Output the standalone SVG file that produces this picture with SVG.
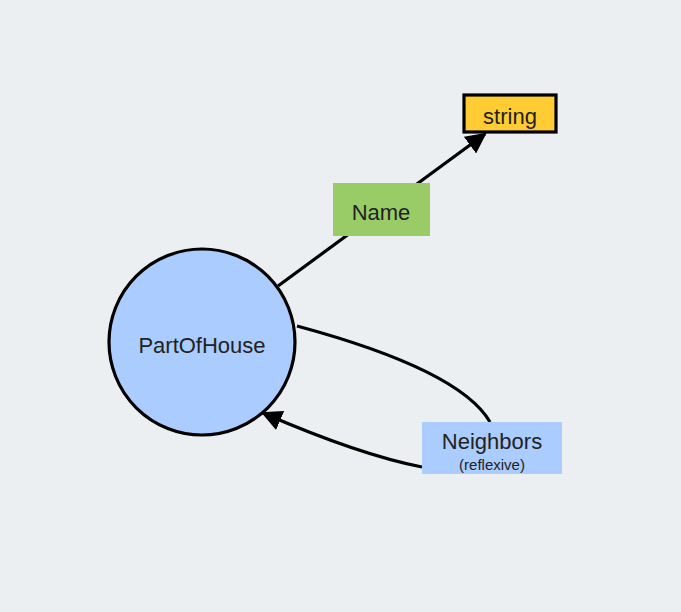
<svg xmlns="http://www.w3.org/2000/svg" width="681" height="612" viewBox="0 0 681 612">
<style>
text{font-family:"Liberation Sans",Arial,sans-serif;fill:#222;text-anchor:middle}
.edge{fill:none;stroke:#000;stroke-width:3.2}
</style>
<defs>
<marker id="arr" viewBox="0 0 10 10" refX="9" refY="5" markerWidth="6.5" markerHeight="6.5" markerUnits="strokeWidth" orient="auto">
<path d="M0,0 L10,5 L0,10 z" fill="#000"/>
</marker>
</defs>
<rect width="681" height="612" fill="#ECEFF1"/>
<g id="connectors">
<path class="edge" d="M278,286 L485,134" marker-end="url(#arr)"/>
<path class="edge" d="M297,326 Q460,370 490,422"/>
<path class="edge" d="M422,467 Q360,455 263,413" marker-end="url(#arr)"/>
</g>
<g id="PartOfHouse">
<circle cx="202" cy="342" r="93" fill="#AACCFF" stroke="#000" stroke-width="3.2"/>
<text x="202" y="353" font-size="22">PartOfHouse</text>
</g>
<g id="string">
<rect x="464" y="95" width="92" height="37" fill="#FFCC33" stroke="#000" stroke-width="3.2"/>
<text x="510" y="124" font-size="22">string</text>
</g>
<g id="Name">
<rect x="333" y="183" width="97" height="53" fill="#99CC66"/>
<text x="381" y="220" font-size="22">Name</text>
</g>
<g id="Neighbors">
<rect x="422" y="422" width="140" height="52" fill="#AACCFF"/>
<text x="492" y="449" font-size="22">Neighbors</text>
<text x="492" y="470" font-size="15">(reflexive)</text>
</g>
</svg>
